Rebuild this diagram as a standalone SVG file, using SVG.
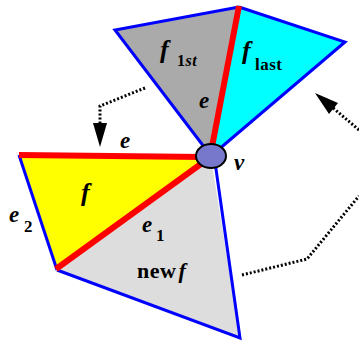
<svg xmlns="http://www.w3.org/2000/svg" width="359" height="345" viewBox="0 0 359 345">
<defs>
<style>
.t{font-family:"Liberation Serif","Times New Roman",serif;font-weight:bold;fill:#000}
.i{font-style:italic}
.blue{stroke:#0000ff;stroke-width:3;fill:none;stroke-linejoin:miter}
.red{stroke:#ff0000;stroke-width:6;fill:none;stroke-linecap:butt}
.dot{stroke:#000;stroke-width:3;fill:none;stroke-dasharray:2 2}
.ah{fill:#000}
</style>
</defs>
<g id="face-f1st">
<polygon points="115,30 239,7 211,156" fill="#aaaaaa"/>
<polyline class="blue" points="211,156 115,30 239,7"/>
<text class="t i" x="160" y="58" font-size="26">f</text>
<text class="t" x="177" y="66" font-size="16" letter-spacing="0.5">1<tspan font-style="italic">st</tspan></text>
<text class="t i" x="199" y="108" font-size="23">e</text>
</g>
<g id="face-flast">
<polygon points="239,7 345,42 211,156" fill="#00ffff"/>
<polyline class="blue" points="239,7 345,42 211,156"/>
<text class="t i" x="242" y="59" font-size="26">f</text>
<text class="t" x="255" y="70" font-size="17" letter-spacing="0.5">last</text>
</g>
<g id="face-f">
<polygon points="19,155 211,158 57,270" fill="#ffff00"/>
<line class="blue" x1="19" y1="155" x2="57" y2="270"/>
<text class="t i" x="81" y="201" font-size="26">f</text>
<text class="t i" x="9" y="222" font-size="23">e</text>
<text class="t" x="24" y="232" font-size="17">2</text>
</g>
<g id="face-newf">
<polygon points="57,270 211,158 240,338" fill="#dddddd"/>
<polyline class="blue" points="57,270 240,338 215,162"/>
<text class="t i" x="142" y="232" font-size="23">e</text>
<text class="t" x="156" y="241" font-size="17">1</text>
<text class="t" x="137" y="278" font-size="22" letter-spacing="0.5">new<tspan font-style="italic" dx="2">f</tspan></text>
</g>
<g id="edges">
<line class="red" x1="239" y1="6" x2="211" y2="152"/>
<line class="red" x1="19" y1="155" x2="203" y2="157"/>
<line class="red" x1="56" y1="269" x2="205" y2="161"/>
<text class="t i" x="120" y="148" font-size="23">e</text>
</g>
<g id="vertex-v">
<ellipse cx="211" cy="156" rx="15" ry="12" fill="#7777cc" stroke="#000" stroke-width="2"/>
<text class="t i" x="234" y="170" font-size="23">v</text>
</g>
<g id="connectors">
<polyline class="dot" points="145,88 100,106 100,124"/>
<polygon class="ah" points="100,147 93,123 107,123"/>
<polyline class="dot" points="359,130 332,107"/>
<polygon class="ah" points="315,93 338,103 329,114"/>
<polyline class="dot" points="242,275 307,259 359,196"/>
</g>
</svg>
